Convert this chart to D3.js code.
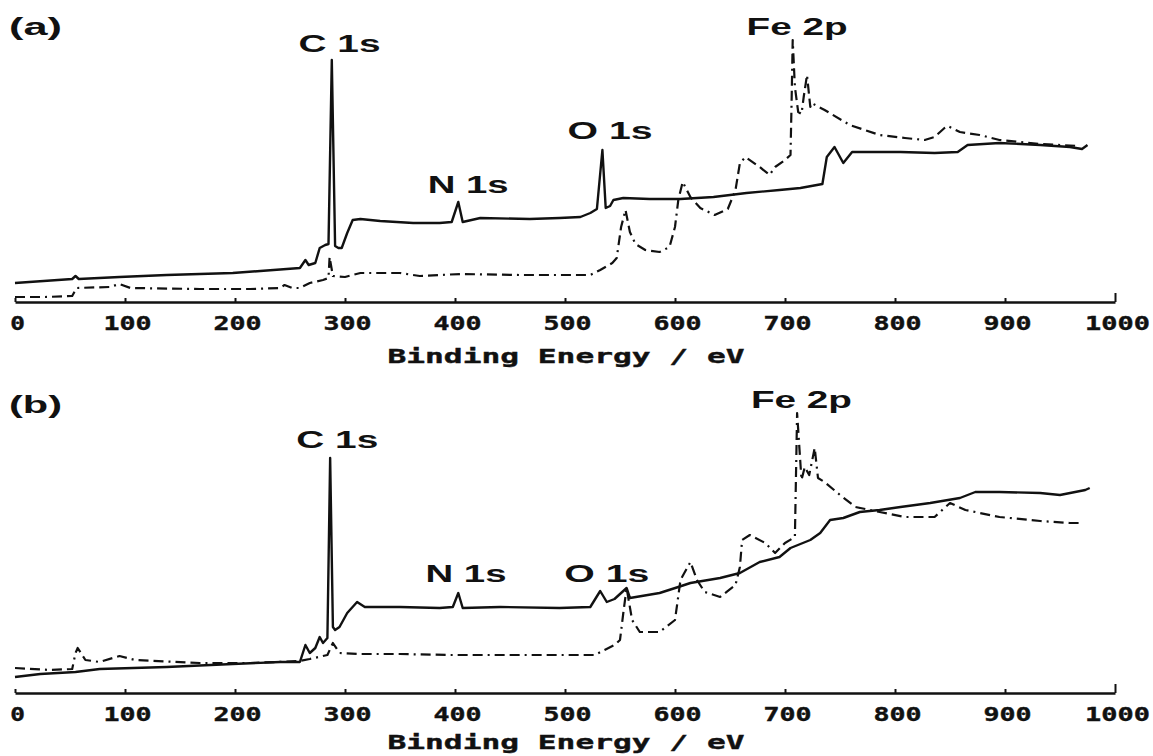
<!DOCTYPE html>
<html>
<head>
<meta charset="utf-8">
<script src="https://cdn.jsdelivr.net/npm/d3@7"></script>
<style>
  html, body { margin: 0; padding: 0; background: #fff; }
  svg { display: block; }
</style>
</head>
<body>
<svg id="chart" width="1153" height="756"></svg>
<script>
// XPS survey spectra, binding energy (eV) vs intensity (a.u.)
const energyTicks = [0, 100, 200, 300, 400, 500, 600, 700, 800, 900, 1000];

// Panel (a), solid trace
const aSolidE = [0, 52, 55, 58, 95, 138, 168, 198, 223, 247, 259, 264, 267, 273, 277, 282, 285, 288, 291, 294, 297, 302, 307, 314, 332, 362, 386, 397, 403, 407, 423, 468, 495, 514, 523, 529, 534, 537, 541, 544, 553, 577, 605, 635, 665, 695, 714, 734, 738, 745, 753, 761, 777, 805, 836, 857, 866, 895, 932, 959, 970, 975];
const aSolidI = [19, 23, 26, 23, 25, 27, 28, 29, 31, 33, 34, 42, 37, 39, 54, 57, 58, 242, 56, 54, 54, 69, 82, 83, 81, 79, 79, 80, 100, 80, 84, 83, 84, 85, 89, 93, 152, 94, 96, 102, 104, 103, 103, 105, 109, 112, 114, 118, 145, 155, 139, 150, 150, 150, 149, 150, 157, 159, 157, 155, 153, 157];

// Panel (a), dash-dot trace
const aDashE = [0, 27, 52, 56, 86, 95, 105, 168, 214, 241, 245, 252, 259, 268, 280, 285, 286, 289, 300, 314, 350, 368, 405, 459, 523, 532, 543, 547, 551, 555, 559, 564, 573, 586, 595, 600, 603, 607, 614, 623, 636, 648, 655, 659, 664, 677, 686, 691, 700, 705, 706, 707, 709, 712, 715, 717, 720, 723, 724, 736, 759, 786, 809, 827, 836, 845, 848, 859, 877, 895, 932, 968];
const aDashI = [5, 5, 6, 14, 15, 18, 14, 13, 13, 14, 17, 14, 14, 19, 22, 24, 45, 26, 25, 29, 29, 26, 28, 27, 27, 32, 39, 44, 75, 92, 70, 58, 52, 50, 55, 75, 102, 120, 105, 94, 87, 93, 112, 139, 145, 135, 127, 135, 142, 147, 200, 262, 215, 190, 188, 205, 227, 195, 199, 192, 177, 167, 164, 162, 165, 174, 176, 170, 167, 162, 158, 156];

// Panel (b), solid trace
const bSolidE = [0, 23, 55, 77, 138, 198, 241, 259, 264, 268, 273, 277, 280, 284, 286.5, 289, 291, 295, 302, 311, 318, 350, 386, 398, 403, 407, 441, 495, 523, 532, 538, 545, 556, 559, 586, 603, 614, 641, 659, 677, 695, 705, 723, 732, 741, 753, 768, 786, 805, 832, 859, 873, 895, 932, 950, 973, 977];
const bSolidI = [16, 19, 21, 24, 26, 29, 31, 31, 48, 40, 45, 56, 50, 55, 235, 66, 63, 66, 80, 91, 86, 86, 85, 86, 100, 85, 86, 85, 86, 102, 91, 94, 105, 95, 100, 106, 110, 115, 120, 131, 136, 145, 153, 160, 173, 175, 181, 183, 186, 190, 195, 201, 201, 200, 198, 203, 205];

// Panel (b), dash-dot trace
const bDashE = [0, 32, 52, 55, 57, 64, 77, 95, 109, 168, 214, 259, 268, 284, 289, 295, 314, 350, 395, 459, 527, 536, 545, 550, 553, 556, 561, 568, 586, 600, 605, 614, 620, 627, 641, 655, 659, 661, 668, 682, 691, 700, 709, 711, 715, 718, 722, 727, 730, 736, 750, 764, 786, 809, 836, 845, 850, 864, 895, 932, 959, 971];
const bDashI = [25, 23, 24, 40, 45, 33, 31, 37, 33, 30, 30, 32, 34, 38, 50, 40, 39, 39, 38, 38, 38, 43, 48, 53, 80, 105, 73, 61, 61, 73, 113, 131, 113, 101, 96, 108, 126, 153, 158, 150, 140, 150, 156, 280, 213, 226, 218, 245, 215, 211, 198, 186, 181, 176, 176, 185, 190, 183, 176, 172, 170, 170];

// Peak annotations: [label, energy, intensity]
const aPeaks = [["C 1s", 295, 250], ["N 1s", 412, 109], ["O 1s", 541, 163], ["Fe 2p", 711, 267]];
const bPeaks = [["C 1s", 293, 245], ["N 1s", 410, 111], ["O 1s", 538, 111], ["Fe 2p", 715, 285]];

const svg = d3.select("#chart");
const x = d3.scaleLinear().domain([0, 1000]).range([15, 1115]);

const panels = [
  { tag: "(a)", axisY: 302, tagBase: 35, titleBase: 363, solid: [aSolidE, aSolidI], dash: [aDashE, aDashI], peaks: aPeaks },
  { tag: "(b)", axisY: 693, tagBase: 413, titleBase: 749, solid: [bSolidE, bSolidI], dash: [bDashE, bDashI], peaks: bPeaks }
];

const labelWidth = { "C 1s": 82, "N 1s": 81, "O 1s": 85, "Fe 2p": 101 };
const ink = "#111";

panels.forEach(p => {
  const y = d3.scaleLinear().domain([0, 300]).range([p.axisY, p.axisY - 300]);
  const g = svg.append("g");

  // energy axis with short upward ticks
  const axis = d3.axisBottom(x).tickValues(energyTicks).tickSizeInner(-5).tickSizeOuter(0).tickFormat(d3.format("d"));
  const ax = g.append("g").attr("transform", `translate(0,${y(0)})`).call(axis);
  ax.select(".domain").attr("stroke", ink).attr("stroke-width", 2.4);
  ax.selectAll(".tick line").attr("stroke", ink).attr("stroke-width", 2)
    .attr("y2", d => d === 1000 ? -9 : -4);
  ax.selectAll(".tick text")
    .attr("y", 28).attr("dy", null)
    .attr("x", 2)
    .attr("font-family", "'DejaVu Sans Mono', monospace")
    .attr("font-weight", "bold")
    .attr("font-size", 19)
    .attr("fill", ink)
    .attr("stroke", ink).attr("stroke-width", 0.4)
    .attr("textLength", d => String(d).length * 16.7 - 2)
    .attr("lengthAdjust", "spacingAndGlyphs");

  g.append("text")
    .attr("x", 566).attr("y", p.titleBase)
    .attr("text-anchor", "middle")
    .attr("font-family", "'DejaVu Sans Mono', monospace")
    .attr("font-weight", "bold")
    .attr("font-size", 20)
    .attr("fill", ink)
    .attr("stroke", ink).attr("stroke-width", 0.4)
    .attr("textLength", 357)
    .attr("lengthAdjust", "spacingAndGlyphs")
    .text("Binding Energy / eV");

  const line = d3.line().x(d => x(d[0])).y(d => y(d[1]));
  const pts = arr => arr[0].map((e, i) => [e, arr[1][i]]);

  g.append("path").datum(pts(p.dash))
    .attr("d", line)
    .attr("fill", "none").attr("stroke", ink).attr("stroke-width", 2.2)
    .attr("stroke-dasharray", "10,5,10,5,2,5")
    .attr("stroke-linejoin", "round");

  g.append("path").datum(pts(p.solid))
    .attr("d", line)
    .attr("fill", "none").attr("stroke", ink).attr("stroke-width", 2.4)
    .attr("stroke-linejoin", "round");

  // peak labels
  g.selectAll(".peak").data(p.peaks).join("text")
    .attr("class", "peak")
    .attr("x", d => x(d[1])).attr("y", d => y(d[2]))
    .attr("text-anchor", "middle")
    .attr("font-family", "'Liberation Sans', Arial, sans-serif")
    .attr("font-weight", "bold")
    .attr("font-size", 23)
    .attr("fill", ink)
    .attr("textLength", d => labelWidth[d[0]])
    .attr("lengthAdjust", "spacingAndGlyphs")
    .text(d => d[0]);

  // panel tag
  g.append("text")
    .attr("x", 9).attr("y", p.tagBase)
    .attr("font-family", "'Liberation Sans', Arial, sans-serif")
    .attr("font-weight", "bold")
    .attr("font-size", 23)
    .attr("fill", ink)
    .attr("textLength", 53)
    .attr("lengthAdjust", "spacingAndGlyphs")
    .text(p.tag);
});
</script>
</body>
</html>
